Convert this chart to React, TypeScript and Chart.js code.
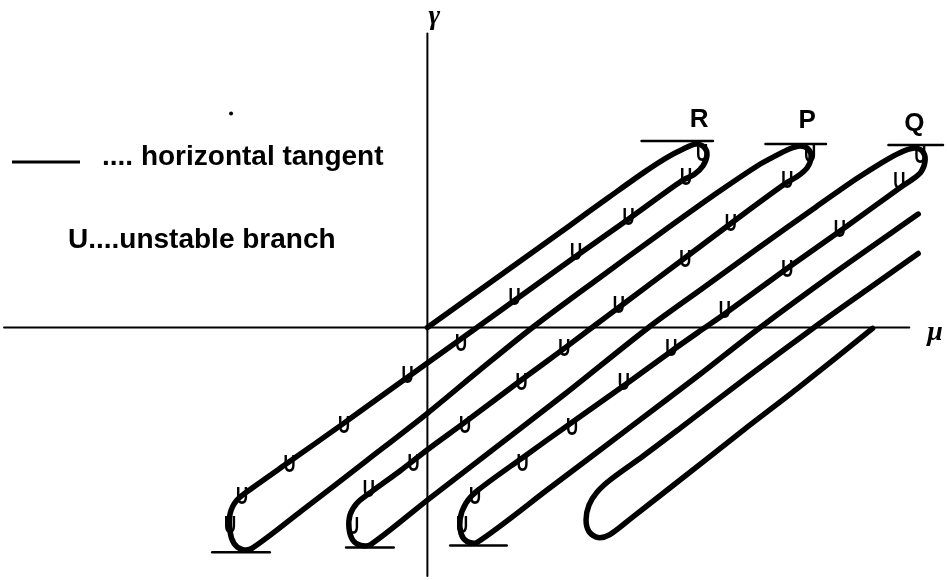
import { useEffect, useRef } from "react";
import { Chart, registerables } from "chart.js";

Chart.register(...registerables);

type Pt = [number, number];

// Plot window in (μ, γ) units
const muRange: Pt = [-4.27, 5.2];
const gammaRange: Pt = [-2.52, 3.28];

// Coordinate axes
const gammaAxis: Pt[] = [
  [0, -2.52],
  [0, 2.98],
];
const muAxis: Pt[] = [
  [-4.27, 0],
  [4.86, 0],
];

// Snaking solution branch: origin -> R -> fold -> P -> fold -> Q -> fold -> out
const snakeCurve: Pt[] = [
  // rising to R
  [0.0, 0.0], [0.43, 0.31], [0.93, 0.67], [1.43, 1.03], [1.83, 1.32], [2.18, 1.57],
  [2.41, 1.72], [2.58, 1.81], [2.71, 1.86],
  // turning at R
  [2.79, 1.83], [2.82, 1.75], [2.78, 1.64], [2.69, 1.55], [2.57, 1.49],
  // falling (unstable) from R
  [2.03, 1.1], [1.48, 0.71], [0.5, 0.0], [0.0, -0.36], [-0.47, -0.7], [-0.87, -0.99],
  [-1.39, -1.36], [-1.77, -1.63], [-1.92, -1.75], [-1.99, -1.89], [-1.99, -2.07],
  [-1.95, -2.19], [-1.87, -2.25], [-1.77, -2.24],
  // rising to P
  [-1.27, -1.86], [-0.6, -1.34], [0.0, -0.87], [0.53, -0.43], [1.06, 0.0], [1.73, 0.5],
  [2.33, 0.94], [2.93, 1.37], [3.33, 1.64], [3.53, 1.75], [3.65, 1.81], [3.76, 1.84],
  // turning at P
  [3.84, 1.81], [3.87, 1.73], [3.83, 1.62], [3.73, 1.53], [3.61, 1.46],
  // falling (unstable) from P
  [3.08, 1.07], [2.63, 0.73], [1.98, 0.24], [1.66, 0.0], [1.33, -0.25], [0.95, -0.53],
  [0.38, -0.96], [0.0, -1.24], [-0.27, -1.45], [-0.57, -1.67], [-0.71, -1.78],
  [-0.78, -1.9], [-0.79, -2.04], [-0.75, -2.16], [-0.67, -2.21], [-0.57, -2.2],
  // rising to Q
  [0.0, -1.75], [0.53, -1.34], [1.38, -0.68], [2.23, 0.0], [2.78, 0.4], [3.33, 0.8],
  [3.93, 1.23], [4.33, 1.51], [4.58, 1.67], [4.76, 1.77], [4.91, 1.82],
  // turning at Q
  [4.99, 1.79], [5.02, 1.7], [4.98, 1.58], [4.89, 1.5], [4.77, 1.42],
  // falling (unstable) from Q
  [4.18, 0.99], [3.63, 0.6], [3.0, 0.14], [2.8, 0.0], [2.46, -0.24], [1.98, -0.59],
  [1.46, -0.96], [0.96, -1.32], [0.51, -1.65], [0.39, -1.78], [0.33, -1.94],
  [0.34, -2.09], [0.4, -2.17], [0.5, -2.18],
  // rising out of the window
  [1.23, -1.63], [2.06, -1.0], [2.73, -0.49], [3.33, -0.02], [4.13, 0.57], [4.95, 1.15],
];

// Separate closed-off loop on the right
const lowerLoop: Pt[] = [
  [4.95, 0.75], [4.43, 0.38], [3.9, 0.0], [3.23, -0.5], [2.55, -1.02], [2.18, -1.3],
  [1.85, -1.54], [1.71, -1.67], [1.63, -1.8], [1.6, -1.95], [1.63, -2.07], [1.72, -2.13],
  [1.84, -2.1], [2.06, -1.93], [2.81, -1.34], [3.2, -1.03], [3.73, -0.62], [4.49, -0.01],
];

// Horizontal tangents at the folds: [μ from, μ to, γ]
const tangentSegments: [number, number, number][] = [
  [2.16, 2.88, 1.89],
  [3.41, 4.02, 1.86],
  [4.65, 5.2, 1.85],
  [-2.17, -1.59, -2.28],
  [-0.82, -0.34, -2.23],
  [0.23, 0.8, -2.21],
];

// Unstable-branch markers along each descending branch
const unstableR: Pt[] = [
  [2.77, 1.76], [2.61, 1.51], [2.03, 1.11], [1.5, 0.75], [0.88, 0.3], [0.34, -0.17],
  [-0.2, -0.5], [-0.84, -1.0], [-1.39, -1.4], [-1.87, -1.72], [-1.99, -2.02],
];
const unstableP: Pt[] = [
  [3.86, 1.75], [3.63, 1.48], [3.06, 1.05], [2.6, 0.68], [1.93, 0.21], [1.38, -0.22],
  [0.95, -0.57], [0.38, -1.0], [-0.14, -1.39], [-0.59, -1.65], [-0.75, -2.03],
];
const unstableQ: Pt[] = [
  [4.97, 1.73], [4.76, 1.47], [4.16, 0.98], [3.63, 0.58], [3.0, 0.16], [2.46, -0.22],
  [1.98, -0.57], [1.46, -1.02], [0.96, -1.39], [0.48, -1.72], [0.35, -2.02],
];

// Fold labels
const foldLabels: [string, number, number][] = [
  ["R", 2.74, 2.11],
  ["P", 3.83, 2.1],
  ["Q", 4.91, 2.06],
];

// Axis names
const axisNames: [string, number, number][] = [
  ["γ", 0.07, 3.15],
  ["μ", 5.12, -0.05],
];

const strayDot: Pt[] = [[-1.98, 2.17]];

const legendTangentText = ".... horizontal tangent";
const legendUnstableText = "U....unstable branch";

const toXY = (pts: Pt[]) => pts.map(([x, y]) => ({ x, y }));

const lineSet = (pts: Pt[], width: number, tension = 0) => ({
  data: toXY(pts),
  showLine: true,
  borderColor: "#000",
  backgroundColor: "#000",
  borderWidth: width,
  pointRadius: 0,
  tension,
  borderCapStyle: "round" as const,
  borderJoinStyle: "round" as const,
  clip: false as const,
});

const annotate = {
  id: "annotate",
  afterDatasetsDraw(chart: Chart) {
    const { ctx } = chart;
    const xs = chart.scales.x;
    const ys = chart.scales.y;
    ctx.save();
    ctx.fillStyle = "#000";
    ctx.strokeStyle = "#000";

    // unstable markers
    ctx.textAlign = "center";
    ctx.textBaseline = "middle";
    ctx.font = 'bold 24px "Liberation Sans"';
    for (const [m, g] of [...unstableR, ...unstableP, ...unstableQ]) {
      ctx.save();
      ctx.translate(xs.getPixelForValue(m), ys.getPixelForValue(g));
      ctx.scale(0.7, 1);
      ctx.fillText("U", 0, 0);
      ctx.restore();
    }

    // fold labels
    ctx.font = 'bold 26px "Liberation Sans"';
    for (const [t, m, g] of foldLabels) {
      ctx.fillText(t, xs.getPixelForValue(m), ys.getPixelForValue(g));
    }

    // axis names
    ctx.font = 'bold italic 28px "Liberation Serif"';
    for (const [t, m, g] of axisNames) {
      ctx.fillText(t, xs.getPixelForValue(m), ys.getPixelForValue(g));
    }

    // legend
    ctx.lineWidth = 3;
    ctx.beginPath();
    ctx.moveTo(12, 162);
    ctx.lineTo(80, 162);
    ctx.stroke();
    ctx.textAlign = "left";
    ctx.textBaseline = "alphabetic";
    ctx.font = 'bold 28px "Liberation Sans"';
    ctx.fillText(legendTangentText, 102, 165);
    ctx.fillText(legendUnstableText, 68, 248);
    ctx.restore();
  },
};

export default function App() {
  const canvasRef = useRef<HTMLCanvasElement | null>(null);

  useEffect(() => {
    document.body.style.margin = "0";
    const canvas = canvasRef.current;
    if (!canvas) return;
    const chart = new Chart(canvas, {
      type: "scatter",
      data: {
        datasets: [
          lineSet(gammaAxis, 2),
          lineSet(muAxis, 2),
          ...tangentSegments.map(([a, b, g]) =>
            lineSet(
              [
                [a, g],
                [b, g],
              ],
              2.5
            )
          ),
          lineSet(snakeCurve, 5.5, 0.3),
          lineSet(lowerLoop, 5.5, 0.3),
          {
            data: toXY(strayDot),
            showLine: false,
            pointRadius: 2,
            pointBackgroundColor: "#000",
            pointBorderWidth: 0,
          },
        ],
      },
      options: {
        responsive: false,
        animation: false,
        devicePixelRatio: 1,
        layout: { padding: 0 },
        plugins: { legend: { display: false }, tooltip: { enabled: false } },
        events: [],
        scales: {
          x: { type: "linear", display: false, min: muRange[0], max: muRange[1] },
          y: { type: "linear", display: false, min: gammaRange[0], max: gammaRange[1] },
        },
      },
      plugins: [annotate],
    });
    return () => chart.destroy();
  }, []);

  return (
    <div style={{ width: 947, height: 580, background: "#fff" }}>
      <canvas ref={canvasRef} width={947} height={580} style={{ display: "block" }} />
    </div>
  );
}
